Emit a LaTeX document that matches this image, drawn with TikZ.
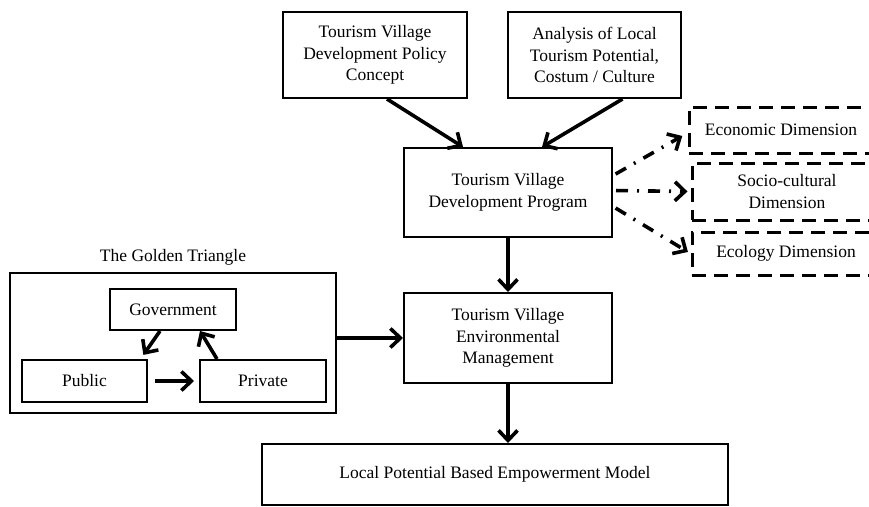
\documentclass[tikz,border=0pt]{standalone}
\usepackage{fontspec}
\setmainfont{Liberation Serif}
\usetikzlibrary{arrows.meta}
\begin{document}
\begin{tikzpicture}[x=1pt,y=-1pt,
	box/.style={draw,line width=2pt,align=center,inner sep=0pt,font=\fontsize{17.5}{21.5}\selectfont},
	dimbox/.style={draw,line width=3pt,dash pattern=on 14pt off 8pt,align=center,inner sep=0pt,font=\fontsize{17.5}{21.5}\selectfont},
	flow/.style={->,line width=3.6pt},
	spread/.style={->,line width=3.6pt,dash pattern=on 12pt off 9pt on 2pt off 9pt}]
			\tikzset{>={Straight Barb[length=10pt,width=19pt]}}
			\useasboundingbox (0,0) rectangle (869,506);
			\clip (0,0) rectangle (869,506);

			% inputs and program
			\node[box,minimum width=184pt,minimum height=86pt] (policy) at (375,55) {Tourism Village\\Development Policy\\Concept};
			\node[box,minimum width=173pt,minimum height=86pt] (analysis) at (594.5,55) {Analysis of Local\\Tourism Potential,\\Costum / Culture};
			\node[box,minimum width=208pt,minimum height=89pt] (program) at (508,192.5) {Tourism Village\\Development Program};
			\node[box,minimum width=208pt,minimum height=90pt] (envman) at (508,338) {Tourism Village\\Environmental\\Management};
			\node[box,minimum width=466pt,minimum height=61pt] (model) at (495,474.5) {Local Potential Based Empowerment Model};

			% dimensions
			\node[dimbox,minimum width=184pt,minimum height=46pt] (eco) at (781,130) {Economic Dimension};
			\node[dimbox,minimum width=190pt,minimum height=57pt] (socio) at (787,191.5) {Socio-cultural\\Dimension};
			\node[dimbox,minimum width=188pt,minimum height=43pt] (ecol) at (786,253.5) {Ecology Dimension};

			% golden triangle
			\node[box,minimum width=326pt,minimum height=140pt] (gold) at (173,343) {};
			\node[above=3pt,font=\fontsize{17.5}{21.5}\selectfont] (goldlbl) at (gold.north) {The Golden Triangle};
			\node[box,minimum width=126pt,minimum height=41pt] (gov) at (173,309.5) {Government};
			\node[box,minimum width=125pt,minimum height=42pt] (pub) at (84.5,381) {Public};
			\node[box,minimum width=126pt,minimum height=42pt] (priv) at (263,381) {Private};

			\draw[flow] ([xshift=12pt]policy.south) -- ([xshift=-45pt]program.north);
			\draw[flow] ([xshift=28pt]analysis.south) -- ([xshift=34pt]program.north);
			\draw[flow] (program.south) -- (envman.north);
			\draw[flow] (envman.south) -- (envman.south |- model.north);
			\draw[flow] (envman.west -| gold.east) -- (envman.west);

			\draw[flow,shorten >=5pt] ([xshift=-13pt]gov.south) -- ([xshift=56pt]pub.north);
			\draw[flow] ([xshift=-46pt]priv.north) -- ([xshift=27pt]gov.south);
			\draw[flow,shorten <=7pt,shorten >=5pt] (pub.east) -- (priv.west);

			\draw[spread,shorten <=3pt,shorten >=6pt] ([yshift=17pt]program.east) -- ([yshift=-3pt]eco.west);
			\draw[spread,shorten <=3pt,shorten >=3pt] ([yshift=2pt]program.east) -- (socio.west);
			\draw[spread,shorten <=3pt,shorten >=3pt] ([yshift=-14pt]program.east) -- (ecol.west);
\end{tikzpicture}
\end{document}
